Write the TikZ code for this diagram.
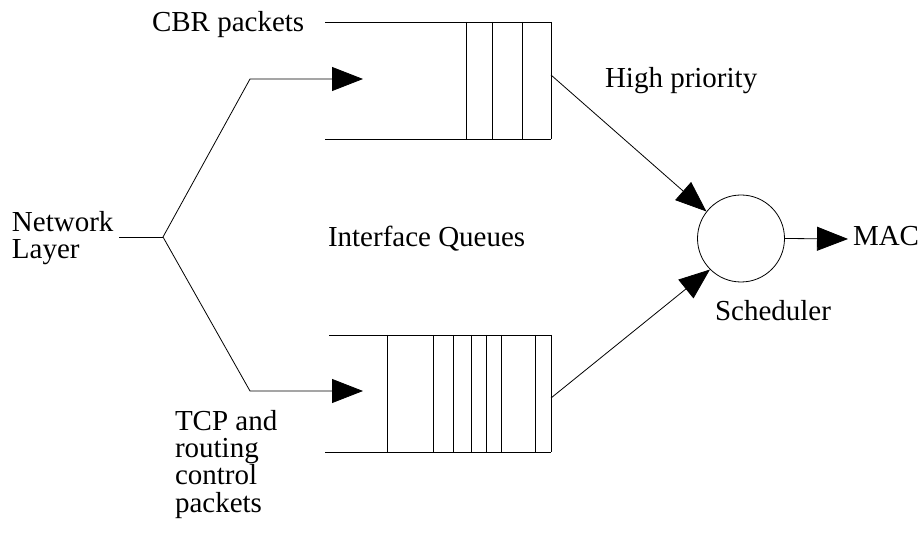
\documentclass[tikz,border=0pt]{standalone}
\usepackage{fontspec}
\setmainfont{Liberation Serif}
\usetikzlibrary{arrows.meta}
\begin{document}
\begin{tikzpicture}[x=1pt,y=-1pt,
  wire/.style={line width=0.8pt,black},
  flow/.style={wire,-{Triangle[length=31pt,width=24pt]}},
  label/.style={anchor=base west,inner sep=0pt,outer sep=0pt,
    font=\fontsize{29}{27.2}\selectfont,align=left},
  slot/.style={line width=0.8pt,black}]
\useasboundingbox (0,0) rectangle (923,534);

% split point of the incoming traffic
\coordinate (fork) at (163,237);
\coordinate (stub) at (119,237);
\coordinate (upbend) at (250,79);
\coordinate (lowbend) at (250,391);
\coordinate (upin) at (363,79);
\coordinate (lowin) at (363,391);

% CBR queue (high priority)
\draw[slot] (325,22) -- (551,22);
\draw[slot] (325,139) -- (551,139);
\foreach \x in {466,492,522,551} \draw[slot] (\x,22) -- (\x,139);
\coordinate (upout) at (551,75);

% TCP / routing control queue
\draw[slot] (329,335) -- (551,335);
\draw[slot] (325,452) -- (551,452);
\foreach \x in {387,433,453,471,486,501,535,551} \draw[slot] (\x,335) -- (\x,452);
\coordinate (lowout) at (551,398);

% scheduler
\node[draw,circle,line width=0.8pt,minimum size=87pt,inner sep=0pt] (sched) at (741,238.5) {};
\coordinate (mac) at (848,239);

% connectors
\draw[wire] (stub) -- (fork);
\draw[flow] (fork) -- (upbend) -- (upin);
\draw[flow] (fork) -- (lowbend) -- (lowin);
\draw[flow] (upout) -- (sched.142);
\draw[flow] (lowout) -- (sched.225);
\draw[flow] (sched.east) -- (mac);

% labels (multi-line labels are placed by the baseline of their last line)
\node[label] (cbr) at (152,32) {CBR packets};
\node[label] (high) at (605,88) {High priority};
\node[label] (net) at (12,258.5) {Network\\Layer};
\node[label] (ifq) at (328,247) {Interface Queues};
\node[label] (tcp) at (175,512) {TCP and\\routing\\control\\packets};
\node[label] (schedlbl) at (715,320) {Scheduler};
\node[label] (maclbl) at (853,246) {MAC};
\end{tikzpicture}
\end{document}
